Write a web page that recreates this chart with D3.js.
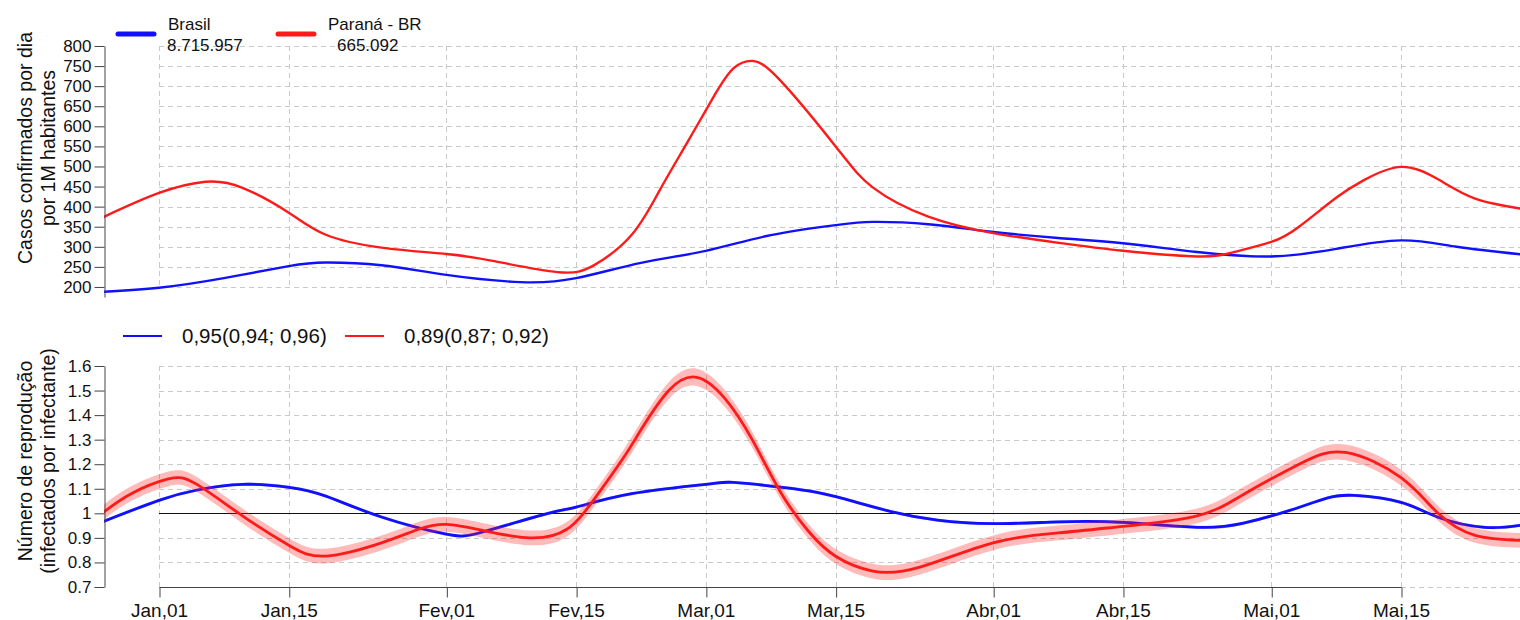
<!DOCTYPE html>
<html>
<head>
<meta charset="utf-8">
<script src="https://cdn.jsdelivr.net/npm/d3@7"></script>
<style>
body { margin: 0; background: #fff; }
text { font-family: "Liberation Sans", Arial, Helvetica, sans-serif; fill: #111; }
.grid line { stroke: #c9c9c9; stroke-dasharray: 5,4; stroke-width: 1; }
.axis path, .axis line { stroke: #444; fill: none; }
</style>
</head>
<body>
<script>
// casos confirmados por dia por 1M habitantes
var brCasesDates = ["2020-12-26","2021-01-01","2021-01-08","2021-01-15","2021-01-19","2021-01-25","2021-02-01","2021-02-09","2021-02-15","2021-02-22","2021-03-01","2021-03-08","2021-03-15","2021-03-19","2021-03-25","2021-04-01","2021-04-08","2021-04-15","2021-04-23","2021-05-01","2021-05-08","2021-05-15","2021-05-21","2021-05-28"];
var brCases = [188,198,222,252,261,254,230,212,222,260,290,329,354,362,356,337,322,309,287,276,295,316,300,281];

var prCasesDates = ["2020-12-26","2021-01-01","2021-01-06","2021-01-10","2021-01-15","2021-01-19","2021-01-25","2021-02-01","2021-02-06","2021-02-13","2021-02-17","2021-02-21","2021-02-24","2021-02-27","2021-03-02","2021-03-04","2021-03-06","2021-03-09","2021-03-15","2021-03-19","2021-03-25","2021-04-01","2021-04-08","2021-04-15","2021-04-23","2021-04-27","2021-05-01","2021-05-04","2021-05-08","2021-05-11","2021-05-15","2021-05-19","2021-05-23","2021-05-28"];
var prCases = [374,434,462,447,385,330,298,282,265,237,255,330,440,560,680,745,763,715,550,448,375,334,310,290,276,287,312,350,422,466,499,468,420,395];

// numero de reproducao
var brRDates = ["2020-12-26","2021-01-01","2021-01-05","2021-01-10","2021-01-15","2021-01-19","2021-01-25","2021-02-01","2021-02-05","2021-02-12","2021-02-15","2021-02-21","2021-03-01","2021-03-04","2021-03-09","2021-03-13","2021-03-17","2021-03-21","2021-03-26","2021-04-01","2021-04-08","2021-04-15","2021-04-23","2021-04-28","2021-05-03","2021-05-07","2021-05-10","2021-05-15","2021-05-19","2021-05-24","2021-05-28"];
var brR = [0.967,1.053,1.094,1.118,1.106,1.07,0.985,0.915,0.925,1.0,1.025,1.08,1.118,1.126,1.107,1.085,1.048,1.007,0.972,0.958,0.965,0.963,0.943,0.96,1.012,1.062,1.073,1.045,0.984,0.943,0.952];
var brRCi = [0.006,0.006,0.006,0.006,0.006,0.006,0.006,0.006,0.006,0.006,0.006,0.006,0.006,0.006,0.006,0.006,0.006,0.006,0.006,0.006,0.006,0.006,0.006,0.006,0.006,0.006,0.006,0.006,0.006,0.006,0.006];

var prRDates = ["2020-12-26","2020-12-29","2021-01-02","2021-01-05","2021-01-10","2021-01-15","2021-01-19","2021-01-25","2021-01-29","2021-02-01","2021-02-05","2021-02-10","2021-02-14","2021-02-17","2021-02-20","2021-02-22","2021-02-25","2021-02-28","2021-03-03","2021-03-06","2021-03-09","2021-03-12","2021-03-15","2021-03-19","2021-03-24","2021-04-01","2021-04-08","2021-04-15","2021-04-23","2021-04-28","2021-05-04","2021-05-09","2021-05-15","2021-05-19","2021-05-23","2021-05-28"];
var prR = [1.004,1.08,1.14,1.12,0.99,0.87,0.826,0.88,0.935,0.955,0.93,0.90,0.935,1.06,1.22,1.34,1.50,1.554,1.47,1.30,1.09,0.93,0.825,0.765,0.78,0.88,0.92,0.947,0.99,1.077,1.2,1.248,1.145,1.0,0.91,0.89];
var prRCi = [0.03,0.03,0.03,0.03,0.03,0.03,0.03,0.03,0.03,0.03,0.03,0.03,0.03,0.03,0.032,0.033,0.034,0.035,0.034,0.032,0.03,0.03,0.03,0.03,0.03,0.03,0.03,0.03,0.03,0.03,0.03,0.032,0.032,0.03,0.03,0.03];

var seriesNames = ["Brasil", "Paraná - BR"];
var seriesTotals = ["8.715.957", "665.092"];
var rLegend = ["0,95(0,94; 0,96)", "0,89(0,87; 0,92)"];
var colors = ["#1010ff", "#ff1a1a"];

var tickDates = ["2021-01-01","2021-01-15","2021-02-01","2021-02-15","2021-03-01","2021-03-15","2021-04-01","2021-04-15","2021-05-01","2021-05-15"];
var tickLabels = ["Jan,01","Jan,15","Fev,01","Fev,15","Mar,01","Mar,15","Abr,01","Abr,15","Mai,01","Mai,15"];
var casesTicks = [200,250,300,350,400,450,500,550,600,650,700,750,800];
var rTicks = [0.7,0.8,0.9,1,1.1,1.2,1.3,1.4,1.5,1.6];

var parse = d3.timeParse("%Y-%m-%d");
var W = 1520, H = 620;

function rows(dates, vals, ci) {
  return dates.map(function(d, i) {
    return { date: parse(d), v: vals[i], ci: ci ? ci[i] : 0 };
  });
}
var brC = rows(brCasesDates, brCases), prC = rows(prCasesDates, prCases);
var brRr = rows(brRDates, brR, brRCi), prRr = rows(prRDates, prR, prRCi);
var ticks = tickDates.map(parse);

var svg = d3.select("body").append("svg")
    .attr("width", W)
    .attr("height", H);

var x = d3.scaleTime()
    .domain([parse("2020-12-26"), parse("2021-05-28")])
    .range([103.4, 1521.5]);
var yTop = d3.scaleLinear().domain([175, 800]).range([297, 46]);
var yBot = d3.scaleLinear().domain([0.7, 1.6]).range([587, 366]);

var gx0 = x(ticks[0]);
var px = function(v) { return Math.round(v) + 0.5; };

// clip regions
var defs = svg.append("defs");
defs.append("clipPath").attr("id", "clipTop").append("rect")
    .attr("x", 104).attr("y", 30).attr("width", W - 104).attr("height", 270);
defs.append("clipPath").attr("id", "clipBot").append("rect")
    .attr("x", 104).attr("y", 355).attr("width", W - 104).attr("height", 232);

// ---- grids
var gTop = svg.append("g").attr("class", "grid");
gTop.selectAll(".h").data(casesTicks).join("line").attr("class", "h")
    .attr("x1", gx0).attr("x2", W)
    .attr("y1", function(d) { return px(yTop(d)); })
    .attr("y2", function(d) { return px(yTop(d)); });
gTop.selectAll(".v").data(ticks).join("line").attr("class", "v")
    .attr("x1", function(d) { return px(x(d)); })
    .attr("x2", function(d) { return px(x(d)); })
    .attr("y1", yTop(800)).attr("y2", yTop(200));

var gBot = svg.append("g").attr("class", "grid");
gBot.selectAll(".h").data(rTicks.filter(function(d) { return d !== 1; })).join("line").attr("class", "h")
    .attr("x1", gx0).attr("x2", W)
    .attr("y1", function(d) { return px(yBot(d)); })
    .attr("y2", function(d) { return px(yBot(d)); });
gBot.selectAll(".v").data(ticks).join("line").attr("class", "v")
    .attr("x1", function(d) { return px(x(d)); })
    .attr("x2", function(d) { return px(x(d)); })
    .attr("y1", yBot(1.6)).attr("y2", yBot(0.7));

svg.append("line")
    .attr("x1", gx0).attr("x2", W)
    .attr("y1", px(yBot(1))).attr("y2", px(yBot(1)))
    .attr("stroke", "#111").attr("stroke-width", 1.2);

// ---- top panel curves
var smooth = d3.curveNatural;
var lineTop = d3.line()
    .x(function(d) { return x(d.date); })
    .y(function(d) { return yTop(d.v); })
    .curve(smooth);

var topCurves = svg.append("g").attr("clip-path", "url(#clipTop)");
[brC, prC].forEach(function(s, i) {
  topCurves.append("path").datum(s)
      .attr("d", lineTop)
      .attr("fill", "none")
      .attr("stroke", colors[i])
      .attr("stroke-width", 2.4);
});

// ---- bottom panel bands + curves
var lineBot = d3.line()
    .x(function(d) { return x(d.date); })
    .y(function(d) { return yBot(d.v); })
    .curve(smooth);
var band = d3.area()
    .x(function(d) { return x(d.date); })
    .y0(function(d) { return yBot(d.v - d.ci); })
    .y1(function(d) { return yBot(d.v + d.ci); })
    .curve(smooth);

var botCurves = svg.append("g").attr("clip-path", "url(#clipBot)");
[brRr, prRr].forEach(function(s, i) {
  botCurves.append("path").datum(s)
      .attr("d", band)
      .attr("fill", colors[i])
      .attr("fill-opacity", i ? 0.3 : 0.35)
      .attr("stroke", "none");
  botCurves.append("path").datum(s)
      .attr("d", lineBot)
      .attr("fill", "none")
      .attr("stroke", colors[i])
      .attr("stroke-width", 2.8);
});

// ---- axes
var yAxisTop = d3.axisLeft(yTop).tickValues(casesTicks).tickSize(10).tickSizeOuter(0).tickPadding(3);
svg.append("g").attr("class", "axis")
    .attr("transform", "translate(104.5,0)")
    .call(yAxisTop)
    .selectAll("text").style("font-size", "17px");

var yAxisBot = d3.axisLeft(yBot).tickValues(rTicks).tickSize(10).tickSizeOuter(0).tickPadding(3)
    .tickFormat(function(d) { return d === 1 ? "1" : d3.format(".1f")(d); });
svg.append("g").attr("class", "axis")
    .attr("transform", "translate(104.5,0)")
    .call(yAxisBot)
    .selectAll("text").style("font-size", "17px");

var xAxis = d3.axisBottom(x).tickValues(ticks).tickSize(10).tickSizeOuter(0).tickPadding(6)
    .tickFormat(function(d, i) { return tickLabels[i]; });
var gx = svg.append("g").attr("class", "axis")
    .attr("transform", "translate(0,587.5)")
    .call(xAxis);
gx.select(".domain").attr("d", "M" + px(x(ticks[0])) + ",0H" + px(x(ticks[ticks.length - 1])));
gx.selectAll("text").style("font-size", "19px");
gx.selectAll(".tick line").attr("transform", "translate(0.5,0)");

// ---- axis titles
function yTitle(lines, cy) {
  var g = svg.append("g").attr("transform", "translate(0," + cy + ")");
  lines.forEach(function(t, i) {
    g.append("text")
        .attr("transform", "translate(" + (25 + i * 23) + ",0) rotate(-90)")
        .attr("text-anchor", "middle")
        .attr("dy", "0.35em")
        .style("font-size", "19.5px")
        .text(t);
  });
}
yTitle(["Casos confirmados por dia", "por 1M habitantes"], 148);
yTitle(["Número de reprodução", "(infectados por infectante)"], 461);

// ---- top legend
var legX = [118, 278];
seriesNames.forEach(function(n, i) {
  svg.append("line")
      .attr("x1", legX[i]).attr("x2", legX[i] + 36)
      .attr("y1", 34).attr("y2", 34)
      .attr("stroke", colors[i]).attr("stroke-width", 5)
      .attr("stroke-linecap", "round");
  svg.append("text").attr("x", legX[i] + 50).attr("y", 30)
      .style("font-size", "17px").text(n);
  svg.append("text").attr("x", legX[i] + (i ? 59 : 49)).attr("y", 51)
      .style("font-size", "17px").text(seriesTotals[i]);
});

// ---- bottom legend
var rLegX = [123, 345];
rLegend.forEach(function(t, i) {
  svg.append("line")
      .attr("x1", rLegX[i]).attr("x2", rLegX[i] + 39)
      .attr("y1", 336).attr("y2", 336)
      .attr("stroke", colors[i]).attr("stroke-width", 2);
  svg.append("text").attr("x", rLegX[i] + 59).attr("y", 343)
      .style("font-size", "20.5px").text(t);
});
</script>
</body>
</html>
